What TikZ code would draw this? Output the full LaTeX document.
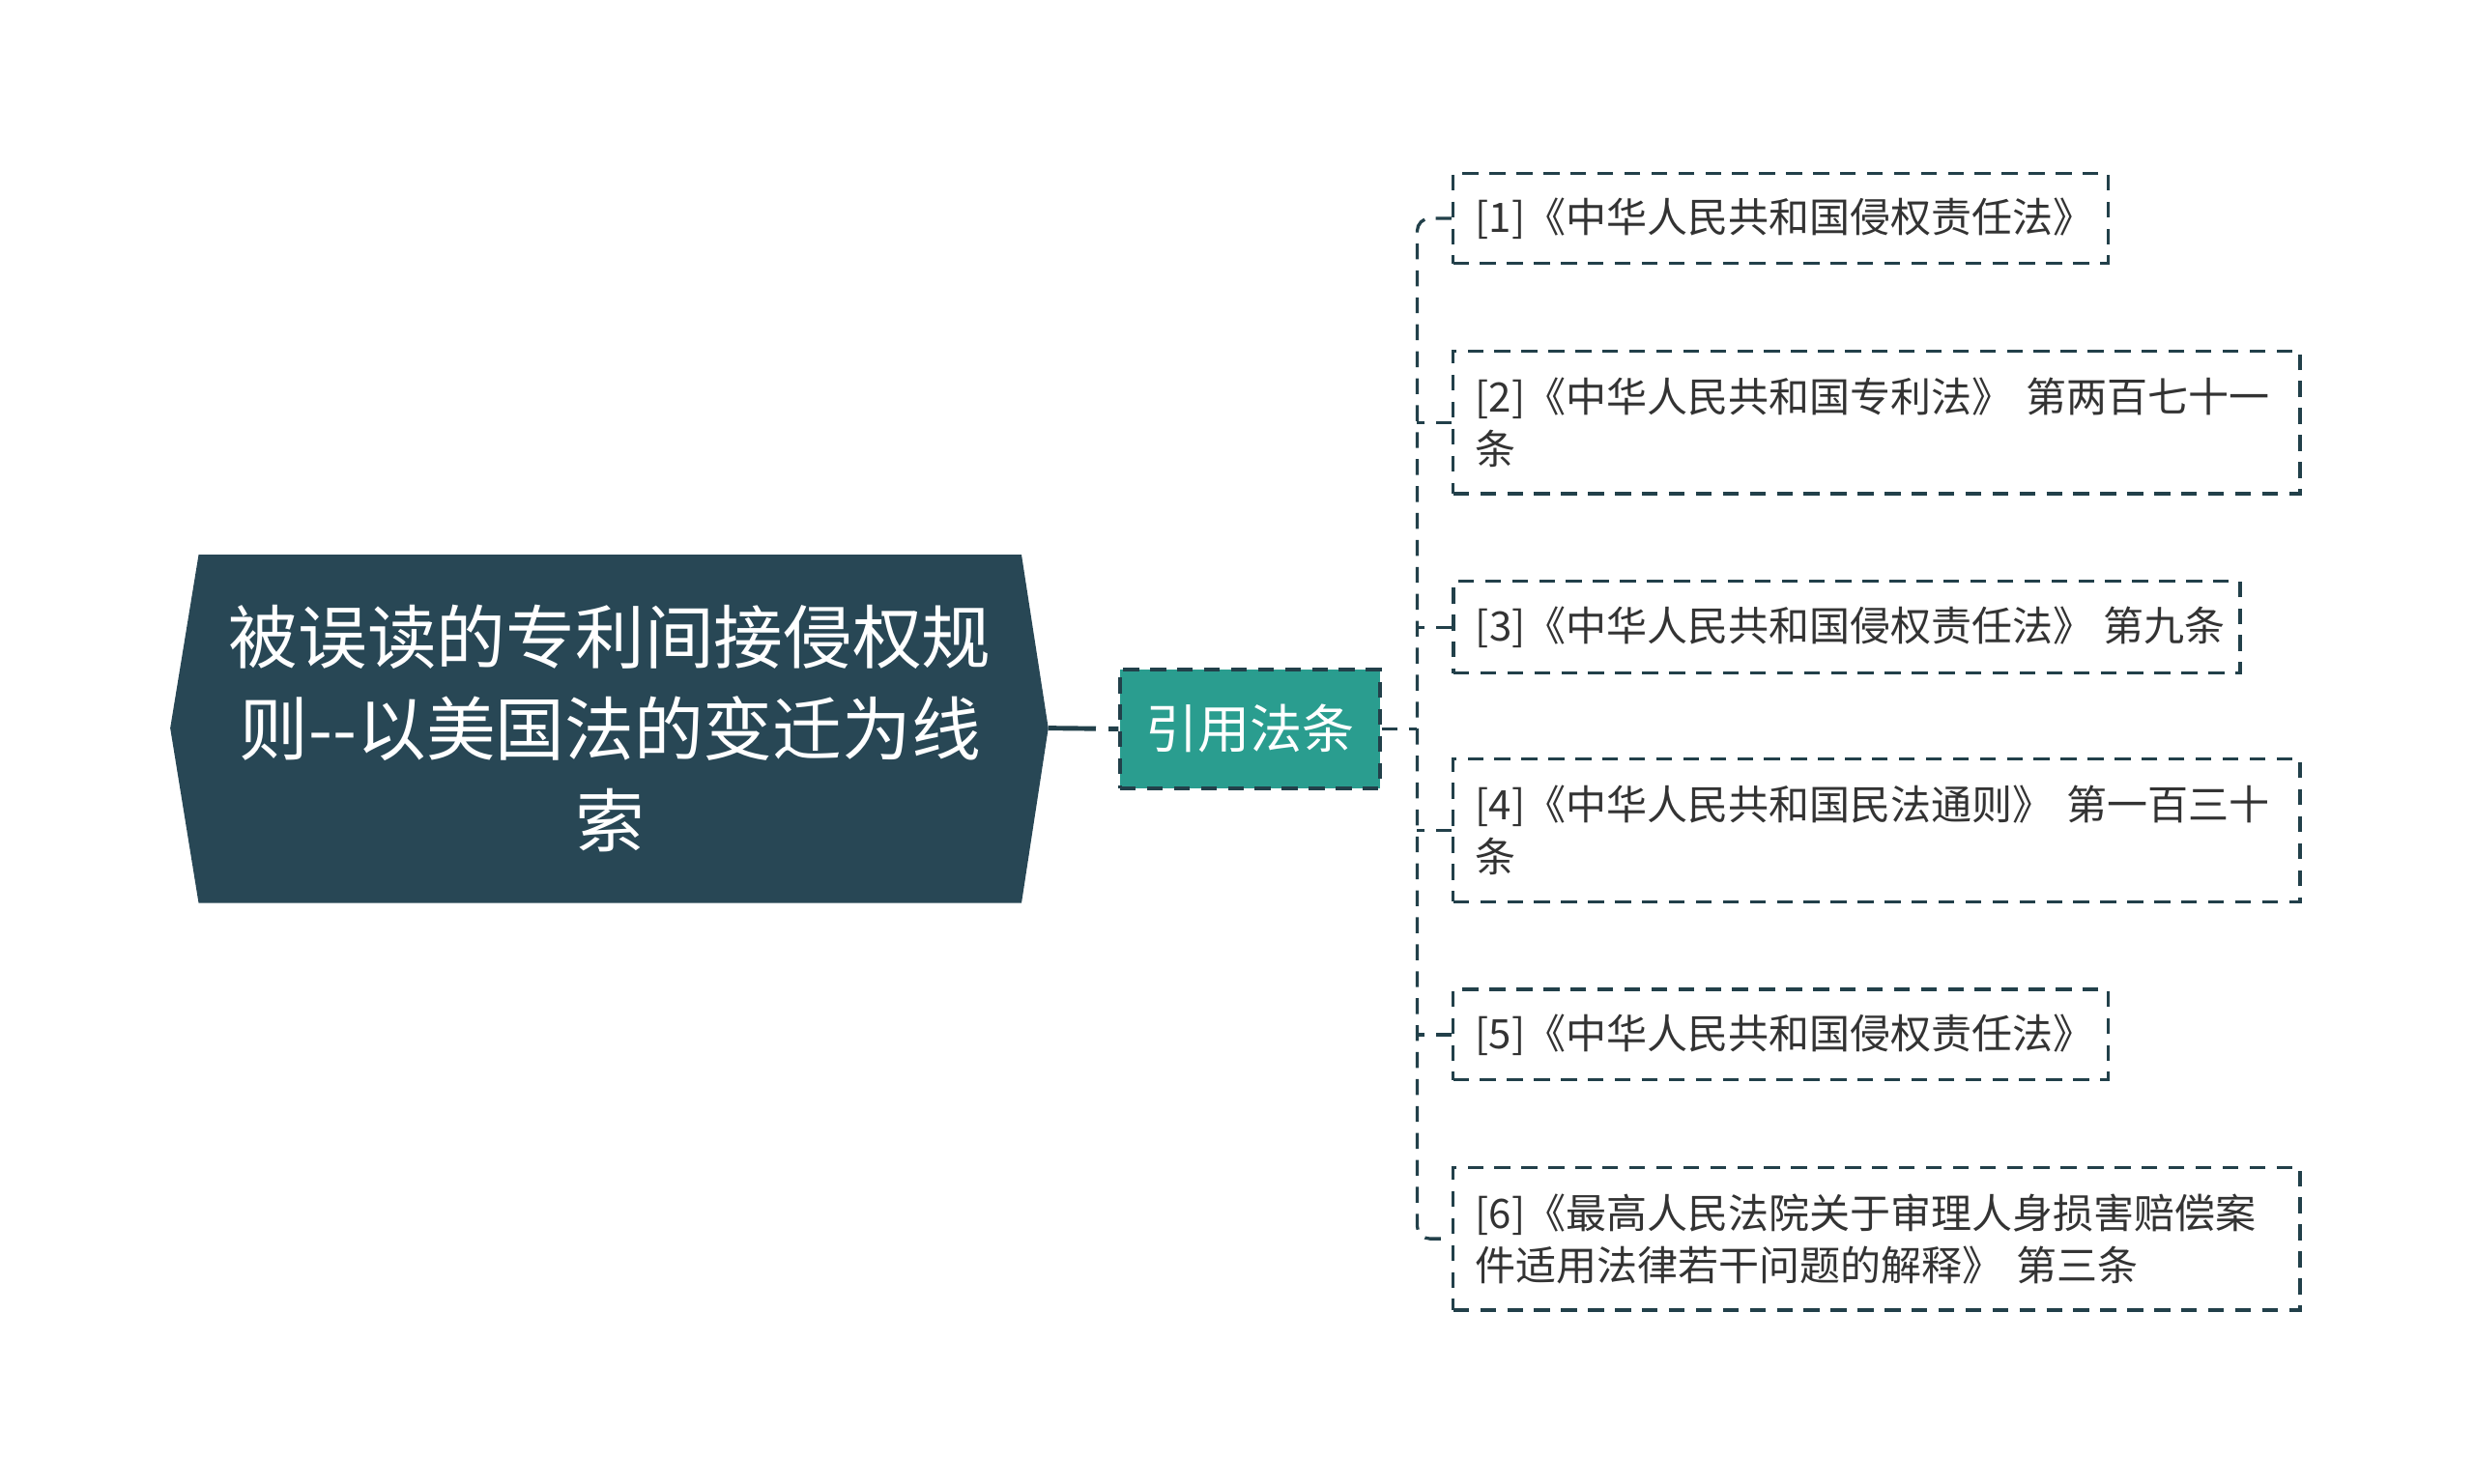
\documentclass[tikz,border=0pt]{standalone}
\usepackage{fontspec}
\setmainfont{Noto Sans CJK SC}
\definecolor{rootfill}{HTML}{284755}
\definecolor{midfill}{HTML}{2A9D8F}
\definecolor{linec}{HTML}{22404A}
\definecolor{textc}{HTML}{333333}
\tikzset{
  conn/.style={draw=linec, line width=1pt, dash pattern=on 5pt off 3.5pt},
  leafbox/.style={draw=linec, line width=1pt, dash pattern=on 5pt off 3.5pt,
     inner xsep=7pt, inner ysep=0pt, align=left, text=textc,
     font=\fontsize{12.8pt}{16.5pt}\selectfont},
  midbox/.style={fill=midfill, draw=linec, line width=1pt, dash pattern=on 5pt off 3.5pt,
     minimum width=82pt, minimum height=37.5pt, inner sep=0pt, text=white,
     font=\fontsize{16.5pt}{20pt}\selectfont},
  roottext/.style={text=white, align=center, inner sep=0pt,
     font=\fontsize{21.85pt}{29pt}\selectfont}
}
\begin{document}
\begin{tikzpicture}[x=0.497pt,y=-0.497pt]
\useasboundingbox (0,0) rectangle (1569.4,941.6);
% root shape
\fill[rootfill] (126,352) -- (648,352) -- (665,462) -- (648,573) -- (126,573) -- (108,462) -- cycle;
\node[roottext] (root) at (387,462) {被误读的专利间接侵权规\\则-{}-以美国法的变迁为线\\索};
\coordinate (rootE) at (665,462);
% middle node
\node[midbox] (mid) at (793,462.5) {引用法条};
% leaves
\node[leafbox, minimum height=28.5pt] (l1) at (1129.5,138.5) {\makebox[192.5pt][l]{[1]《中华人民共和国侵权责任法》}};
\node[leafbox, minimum width=267pt, minimum height=45pt, text width=253pt] (l2) at (1190.5,268) {[2]《中华人民共和国专利法》 第两百七十一\\条};
\node[leafbox, minimum height=29pt] (l3) at (1171.5,398) {\makebox[234pt][l]{[3]《中华人民共和国侵权责任法》 第九条}};
\node[leafbox, minimum width=267pt, minimum height=45pt, text width=253pt] (l4) at (1190.5,527) {[4]《中华人民共和国民法通则》 第一百三十\\条};
\node[leafbox, minimum height=28.5pt] (l5) at (1129.5,656.5) {\makebox[192.5pt][l]{[5]《中华人民共和国侵权责任法》}};
\node[leafbox, minimum width=267pt, minimum height=45pt, text width=253pt] (l6) at (1190.5,786) {[6]《最高人民法院关于审理人身损害赔偿案\\件适用法律若干问题的解释》 第三条};
% connectors
\draw[linec, line width=1.5pt, dash pattern=on 15pt off 4pt] (rootE) -- (mid.west);
\coordinate (t) at (899,462.5);
\draw[conn] (mid.east) -- (t);
\draw[conn, rounded corners=4pt] (l1.west) -| (t) |- (l6.west);
\foreach \k in {2,3,4,5}{
  \draw[conn] (l\k.west) -- (t |- l\k.west);
}
\end{tikzpicture}
\end{document}
